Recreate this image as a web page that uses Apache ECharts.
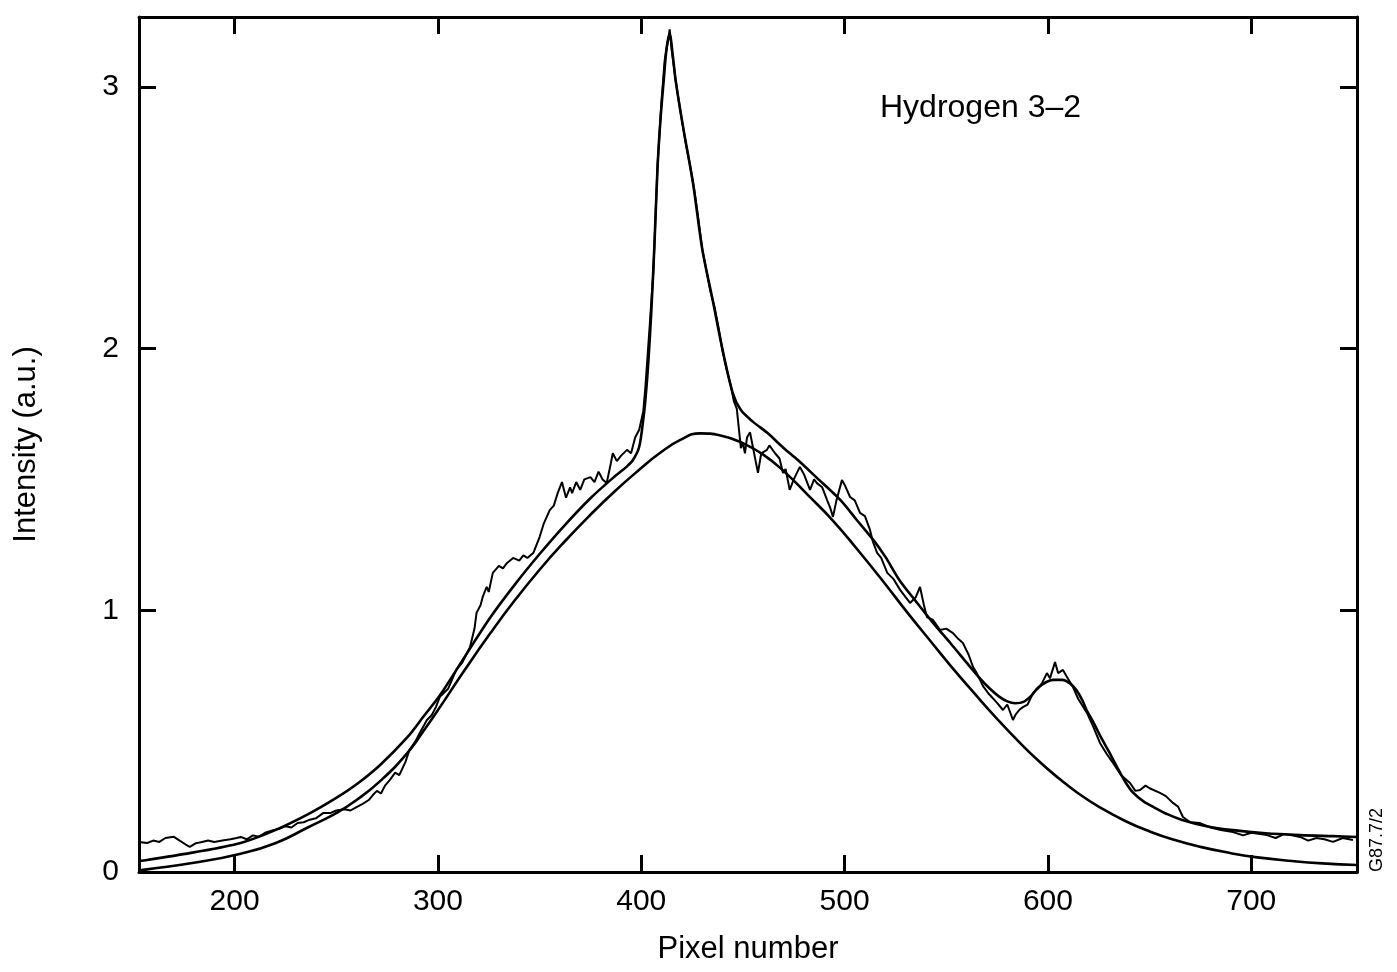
<!DOCTYPE html>
<html>
<head>
<meta charset="utf-8">
<script src="https://cdn.jsdelivr.net/npm/echarts@6/dist/echarts.min.js"></script>
<style>
html,body{margin:0;padding:0;background:#fff;}
#chart{width:1397px;height:972px;}
</style>
</head>
<body>
<div id="chart"></div>
<script>
// ---- data ----
const xTicks = [200, 300, 400, 500, 600, 700];
const yTicks = [0, 1, 2, 3];

// broad (lowest smooth) component
const broadX = [153,157,180,203,220,236,250,260,272,285,293,301,313,326,338,350,362,375,387,399,409,419,429,439,449,460,471,482,494,506,519,531,543,553,563,575,586,596,605,615,626,638,650,662,675,690,703,720,735,752];
const broadY = [0.005,0.01,0.035,0.07,0.11,0.17,0.225,0.275,0.35,0.455,0.54,0.63,0.77,0.915,1.04,1.155,1.26,1.365,1.455,1.537,1.6,1.65,1.676,1.668,1.642,1.595,1.525,1.44,1.345,1.235,1.11,0.99,0.875,0.78,0.69,0.585,0.495,0.42,0.36,0.30,0.245,0.195,0.155,0.123,0.096,0.072,0.056,0.042,0.033,0.027];

// total fit (upper smooth curve)
const fitX = [153,157,180,203,220,236,250,260,272,285,293,301,313,326,338,350,362,375,387,393,396,399,401,402,403.5,405,406.5,408,409.5,411,412.5,414,415.5,417,420.5,425.5,430,435,440,445,449,455,462,470,477,486,498,506,514,520,527,535,543.5,552,560,566,571.5,576,580,584,588,592,595,599,602.5,607,611,614,617,619,622.5,626,630,634,638,642,647,652,659,666,678,691,707,724,740,752];
const fitY = [0.042,0.046,0.075,0.111,0.16,0.22,0.283,0.335,0.412,0.515,0.595,0.675,0.82,0.975,1.1,1.215,1.322,1.428,1.512,1.55,1.575,1.625,1.73,1.80,1.95,2.15,2.4,2.69,2.88,3.02,3.15,3.2,3.12,3.02,2.85,2.63,2.38,2.19,1.995,1.83,1.765,1.72,1.678,1.62,1.574,1.509,1.421,1.345,1.27,1.205,1.115,1.035,0.952,0.875,0.8,0.745,0.70,0.67,0.652,0.645,0.65,0.675,0.703,0.725,0.734,0.734,0.72,0.695,0.655,0.619,0.57,0.516,0.46,0.401,0.345,0.302,0.27,0.248,0.22,0.199,0.175,0.16,0.148,0.141,0.137,0.134];

// measured (noisy) profile
const dataX = [153,157,160,163,166,170,173,176,178,181,184,187,190,194,198,201,203,206,209,212,215,219,222,225,228,231,234,237,240,243.5,247,250,254,257,260,263,266,268,270,272,274,276.4,279,281,284,286,289,291,294.6,297,299,301,305,309,312,315.8,318,319,321,322,324,325,327,330,332,334,337,340,342,344,347,350,352,355,357,359,361,363,365,366,368,370,372,375,377,379,381,383,385,386,388,390,393,395,397,399,401,402,404,406,408,410,411.5,413,414,415,416,417,419,420.5,422,424,426,428,430,432,434,436,438,440,442,444,445.5,447,449,450,451,452,453.5,455,457.4,459,461.8,463,465.8,468,469.7,471,473,475,478,480,483,485,486.4,489,491.4,493,494.3,496,498.7,500,502.7,505,507.6,510,512.5,514,516,518,521,524,527.3,530,532.2,535,537.1,539,540.5,543.5,546.9,550,553.3,556,558.2,561,563.2,565,568.1,571,575,577.9,580,582.8,584,586,587.7,590,592.7,595,597,599.5,601,603.5,605,607.4,609,612.3,615,619.2,622,625.6,629,632,636,640.4,643,645.3,648,650,655.1,658,661.5,664,666.4,670,674.8,680,685,691,696,700,707.7,712,716,720,724,728,732,736,740.2,745,750];
const dataY = [0.115,0.111,0.12,0.115,0.13,0.135,0.12,0.105,0.096,0.11,0.115,0.12,0.115,0.12,0.125,0.13,0.134,0.125,0.14,0.135,0.15,0.16,0.165,0.175,0.17,0.187,0.19,0.2,0.205,0.225,0.225,0.235,0.24,0.235,0.248,0.26,0.275,0.294,0.31,0.3,0.33,0.352,0.38,0.37,0.42,0.466,0.5,0.53,0.581,0.6,0.63,0.67,0.7,0.772,0.8,0.86,0.93,0.99,1.02,1.05,1.09,1.07,1.143,1.17,1.16,1.181,1.2,1.19,1.21,1.2,1.22,1.28,1.33,1.383,1.4,1.45,1.49,1.43,1.47,1.448,1.49,1.46,1.5,1.509,1.49,1.53,1.5,1.486,1.56,1.6,1.57,1.59,1.613,1.6,1.66,1.69,1.76,1.85,2.07,2.3,2.7,2.95,3.1,3.17,3.22,3.14,3.08,3.02,2.92,2.85,2.78,2.7,2.61,2.5,2.38,2.3,2.22,2.16,2.08,1.99,1.92,1.86,1.8,1.77,1.62,1.64,1.6,1.66,1.68,1.62,1.525,1.6,1.613,1.63,1.6,1.58,1.525,1.54,1.46,1.5,1.548,1.52,1.46,1.5,1.486,1.47,1.421,1.39,1.357,1.42,1.498,1.48,1.433,1.42,1.372,1.36,1.307,1.26,1.219,1.2,1.143,1.12,1.078,1.05,1.028,1.05,1.089,1.02,0.974,0.963,0.925,0.93,0.913,0.89,0.875,0.83,0.783,0.76,0.71,0.68,0.646,0.619,0.64,0.581,0.6,0.62,0.63,0.64,0.684,0.7,0.72,0.76,0.74,0.802,0.76,0.772,0.75,0.707,0.66,0.608,0.56,0.493,0.45,0.417,0.37,0.34,0.31,0.313,0.33,0.32,0.302,0.29,0.264,0.25,0.21,0.19,0.187,0.17,0.16,0.153,0.14,0.15,0.141,0.13,0.145,0.14,0.134,0.12,0.13,0.125,0.115,0.13,0.122];

const zip = (xs, ys) => xs.map((x, i) => [x, ys[i]]);

const FONT = '"Liberation Sans", Arial, Helvetica, sans-serif';
const axisLine = { show: true, onZero: false, lineStyle: { color: '#000', width: 3 } };
const tick = (vals) => ({ show: true, inside: true, length: 17, lineStyle: { color: '#000', width: 3 }, customValues: vals });

const chart = echarts.init(document.getElementById('chart'), null, { renderer: 'canvas' });
chart.setOption({
  backgroundColor: '#fff',
  animation: false,
  grid: { left: 139, right: 40, top: 17, bottom: 100, containLabel: false },
  xAxis: [
    {
      type: 'value', min: 153, max: 752, position: 'bottom',
      axisLine: axisLine, axisTick: tick(xTicks),
      axisLabel: { show: true, customValues: xTicks, color: '#000', fontSize: 30, fontFamily: FONT, margin: 15 },
      splitLine: { show: false },
      name: 'Pixel number', nameLocation: 'middle', nameGap: 62,
      nameTextStyle: { color: '#000', fontSize: 31, fontFamily: FONT }
    },
    {
      type: 'value', min: 153, max: 752, position: 'top',
      axisLine: axisLine, axisTick: tick(xTicks),
      axisLabel: { show: false }, splitLine: { show: false }
    }
  ],
  yAxis: [
    {
      type: 'value', min: 0, max: 3.267, position: 'left',
      axisLine: axisLine, axisTick: tick(yTicks),
      axisLabel: { show: true, customValues: yTicks, color: '#000', fontSize: 30, fontFamily: FONT, margin: 20 },
      splitLine: { show: false },
      name: 'Intensity (a.u.)', nameLocation: 'middle', nameGap: 97, nameRotate: 90,
      nameTextStyle: { color: '#000', fontSize: 31, fontFamily: FONT }
    },
    {
      type: 'value', min: 0, max: 3.267, position: 'right',
      axisLine: axisLine, axisTick: tick(yTicks),
      axisLabel: { show: false }, splitLine: { show: false }
    }
  ],
  graphic: [
    {
      type: 'text', x: 880, y: 108,
      style: { text: 'Hydrogen 3\u20132', fill: '#000', font: '32px ' + FONT, verticalAlign: 'middle', align: 'left' }
    },
    {
      type: 'text', x: 1377, y: 840, rotation: Math.PI / 2,
      style: { text: 'G87.7/2', fill: '#000', font: '18px ' + FONT, verticalAlign: 'middle', align: 'center' }
    }
  ],
  series: [
    {
      name: 'broad', type: 'line', data: zip(broadX, broadY), showSymbol: false, symbol: 'none',
      smooth: 0.5, lineStyle: { color: '#000', width: 2.6 }, z: 3
    },
    {
      name: 'fit', type: 'line', data: zip(fitX, fitY), showSymbol: false, symbol: 'none',
      smooth: 0.3, lineStyle: { color: '#000', width: 2.6 }, z: 3
    },
    {
      name: 'data', type: 'line', data: zip(dataX, dataY), showSymbol: false, symbol: 'none',
      smooth: false, lineStyle: { color: '#000', width: 2 }, z: 4
    }
  ]
});
</script>
</body>
</html>
